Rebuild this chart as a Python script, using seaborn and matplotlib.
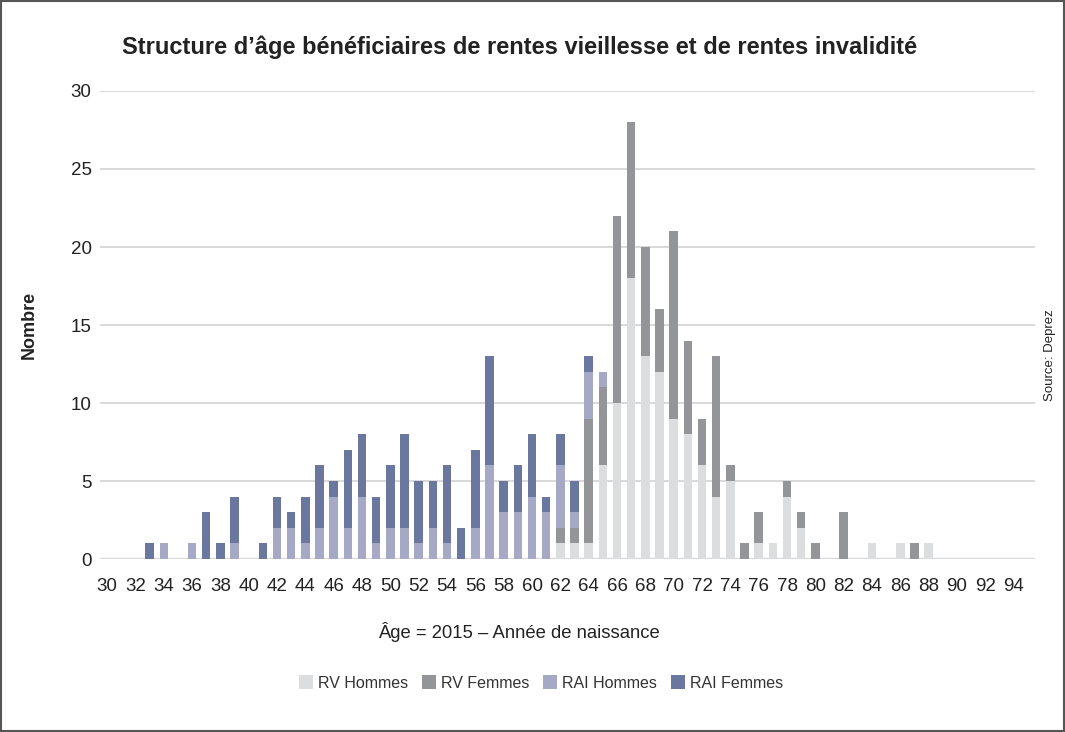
import numpy as np
import pandas as pd
import seaborn as sns
from matplotlib import pyplot as plt
from matplotlib.patches import Patch, Rectangle

ages = list(range(30, 96))

# values, one per age 30..95
rv_hommes = [0] * 32 + [1, 1, 1, 6, 10, 18, 13, 12, 9, 8, 6, 4, 5, 0, 1, 1, 4, 2,
                        0, 0, 0, 0, 1, 0, 1, 0, 1, 0, 0, 0, 0, 0, 0, 0]
rv_femmes = [0] * 32 + [1, 1, 8, 5, 12, 10, 7, 4, 12, 6, 3, 9, 1, 1, 2, 0, 1, 1,
                        1, 0, 3, 0, 0, 0, 0, 1, 0, 0, 0, 0, 0, 0, 0, 0]
rai_hommes = [0, 0, 0, 0, 1, 0, 1, 0, 0, 1, 0, 0, 2, 2, 1, 2, 4, 2, 4, 1, 2, 2,
              1, 2, 1, 0, 2, 6, 3, 3, 4, 3, 4, 1, 3, 1] + [0] * 30
rai_femmes = [0, 0, 0, 1, 0, 0, 0, 3, 1, 3, 0, 1, 2, 1, 3, 4, 1, 5, 4, 3, 4, 6,
              4, 3, 5, 2, 5, 7, 2, 3, 4, 1, 2, 2, 1, 0] + [0] * 30

series = ['RV Hommes', 'RV Femmes', 'RAI Hommes', 'RAI Femmes']
colors = ['#dcdddf', '#939598', '#a5a9c5', '#6a789f']

df = pd.DataFrame({
    'age': [str(a) for a in ages],
    'RV Hommes': rv_hommes,
    'RV Femmes': rv_femmes,
    'RAI Hommes': rai_hommes,
    'RAI Femmes': rai_femmes,
})
cum = df[series].cumsum(axis=1)

sns.set_theme(style='white')
plt.rcParams['font.family'] = ['Liberation Sans', 'DejaVu Sans']

fig = plt.figure(figsize=(10.65, 7.32), dpi=100)
ax = fig.add_axes([0.0939, 0.2363, 0.8779, 0.6394])

# stacked bars: draw cumulative totals from the top series down
for name, color in reversed(list(zip(series, colors))):
    sns.barplot(x=df['age'], y=cum[name], color=color, width=0.6,
                linewidth=0, saturation=1, ax=ax, order=df['age'], zorder=3)

ax.set_ylim(0, 30)
ax.set_yticks([0, 5, 10, 15, 20, 25, 30])
ax.set_xticks(range(0, 65, 2))
ax.set_xticklabels([str(a) for a in ages[:65:2]])
ax.tick_params(axis='both', length=0, labelsize=13.5, colors='#222222')
ax.tick_params(axis='y', pad=6)
ax.tick_params(axis='x', pad=14)
ax.set_xlabel('')
ax.set_ylabel('')
for s in ax.spines.values():
    s.set_visible(False)
ax.yaxis.grid(True, color='#d9d9d9', linewidth=1.4, zorder=0)
ax.set_axisbelow(True)
ax.axhline(0, color='#d9d9d9', linewidth=2.5, zorder=2)

fig.text(0.488, 0.936, 'Structure d\u2019\u00e2ge b\u00e9n\u00e9ficiaires de rentes vieillesse et de rentes invalidit\u00e9',
         ha='center', va='center', fontsize=17, fontweight='bold', color='#222222')
fig.text(0.027, 0.556, 'Nombre', rotation=90, ha='center', va='center',
         fontsize=13, fontweight='bold', color='#222222')
fig.text(0.487, 0.137, '\u00c2ge = 2015 \u2013 Ann\u00e9e de naissance',
         ha='center', va='center', fontsize=13.3, color='#222222')
fig.text(0.986, 0.515, 'Source: Deprez', rotation=90, ha='center', va='center',
         fontsize=9.5, color='#222222')

handles = [Patch(facecolor=c, edgecolor='none', label=n) for n, c in zip(series, colors)]
fig.legend(handles=handles, loc='center', bbox_to_anchor=(0.508, 0.067), ncol=4,
           frameon=False, fontsize=11.5, handlelength=0.9, handleheight=0.9,
           handletextpad=0.3, columnspacing=0.85, labelcolor='#333333')

fig.patches.append(Rectangle((0.001, 0.001), 0.998, 0.998, transform=fig.transFigure,
                             fill=False, edgecolor='#555555', linewidth=1.5))

fig.savefig('out.png', dpi=100)
